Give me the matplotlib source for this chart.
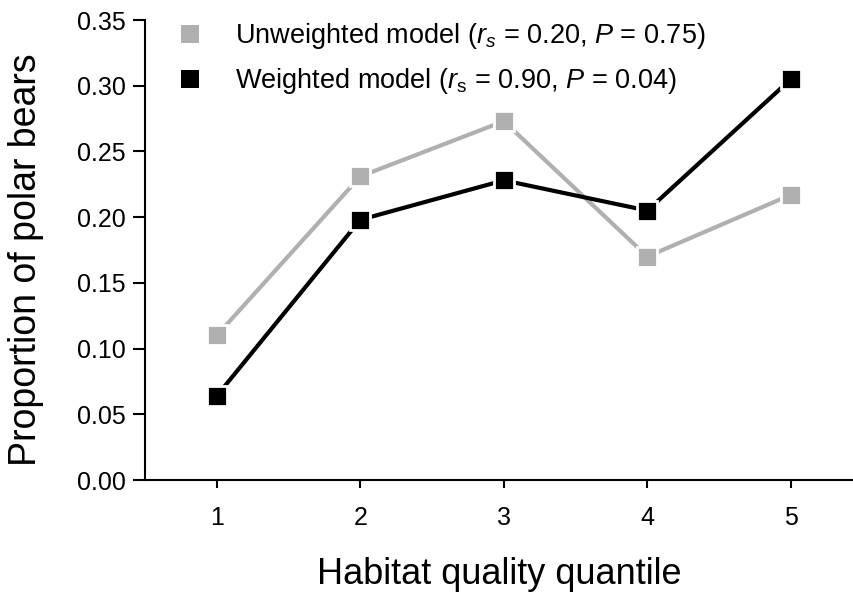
import numpy as np
import matplotlib
matplotlib.use("Agg")
import matplotlib.pyplot as plt

plt.rcParams['font.family'] = ['Liberation Sans', 'DejaVu Sans']
plt.rcParams['mathtext.fontset'] = 'custom'
plt.rcParams['mathtext.rm'] = 'Liberation Sans'
plt.rcParams['mathtext.it'] = 'Liberation Sans:italic'

# datos
cuantiles = [1, 2, 3, 4, 5]
no_ponderado = [0.110, 0.231, 0.273, 0.170, 0.217]
ponderado = [0.064, 0.198, 0.228, 0.205, 0.305]
etiqueta_np = r'Unweighted model ($r_s$ = 0.20, $P$ = 0.75)'
etiqueta_p = r'Weighted model ($r_\mathrm{s}$ = 0.90, $P$ = 0.04)'
gris = '#b0b0b0'

fig = plt.figure(figsize=(8.54, 5.95), dpi=100)
ax = fig.add_axes([145 / 854, 115 / 595, 709 / 854, 460 / 595])

for vals, color, lab in [(no_ponderado, gris, etiqueta_np), (ponderado, 'black', etiqueta_p)]:
    ax.plot(cuantiles, vals, color=color, lw=3, solid_capstyle='butt', zorder=2)
    ax.plot(cuantiles, vals, ls='none', marker='s', ms=15, mfc=color,
            mec='white', mew=2, zorder=3)
    ax.plot([], [], ls='none', marker='s', ms=13, mfc=color, mec=color, mew=0, label=lab)

ax.set_xlim(0.5, 5.44)
ax.set_ylim(0, 0.35)
ax.set_xticks(cuantiles)
ax.set_yticks(np.arange(0, 0.351, 0.05))
ax.set_yticklabels([f'{v:.2f}' for v in np.arange(0, 0.351, 0.05)])
ax.tick_params(axis='y', length=9, width=1.5, labelsize=18, pad=5)
ax.tick_params(axis='x', length=6, width=1.5, labelsize=18, pad=13)
for s in ['top', 'right']:
    ax.spines[s].set_visible(False)
for s in ['left', 'bottom']:
    ax.spines[s].set_linewidth(1.5)

ax.set_xlabel('Habitat quality quantile', fontsize=26, labelpad=19)
ax.set_ylabel('Proportion of polar bears', fontsize=27)
ax.yaxis.set_label_coords(-0.142, 0.48)

ax.legend(loc='upper left', bbox_to_anchor=(0.01, 1.05), frameon=False, fontsize=19.5,
          handlelength=1.0, handletextpad=1.15, labelspacing=0.55)

fig.savefig('out.png', dpi=100)
